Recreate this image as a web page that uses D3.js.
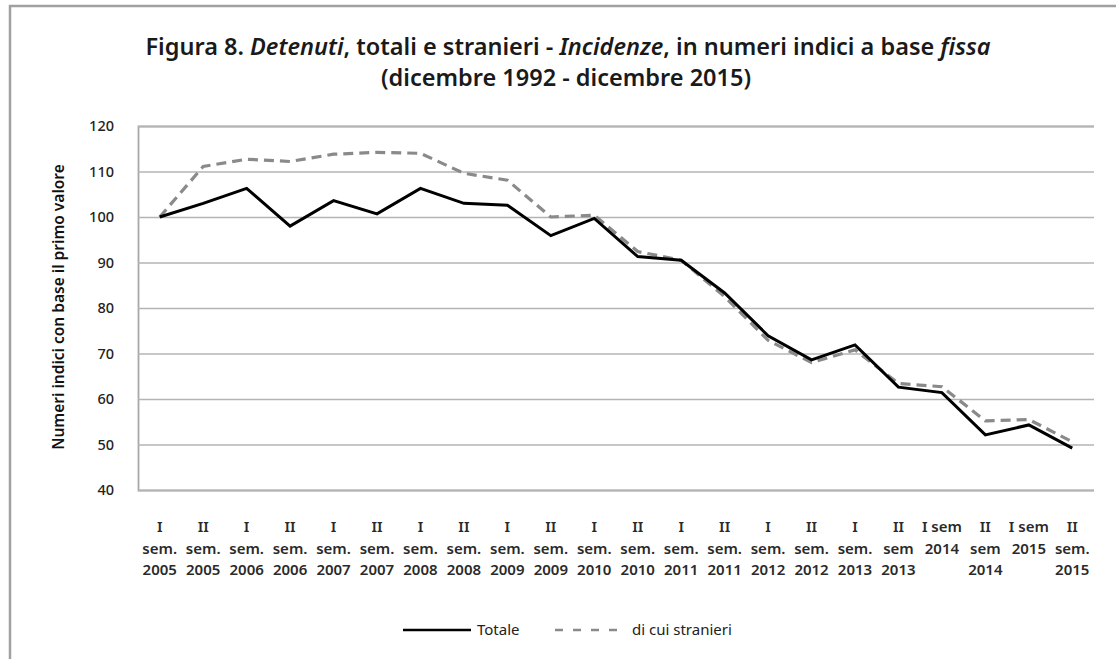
<!DOCTYPE html>
<html><head><meta charset="utf-8">
<script src="https://cdn.jsdelivr.net/npm/d3@7/dist/d3.min.js"></script>
<style>body{margin:0;background:#fff;} svg{display:block;font-family:"Noto Sans","Open Sans",sans-serif;}</style>
</head><body>
<script>
const categories = [
  ["I","sem.","2005"],["II","sem.","2005"],["I","sem.","2006"],["II","sem.","2006"],
  ["I","sem.","2007"],["II","sem.","2007"],["I","sem.","2008"],["II","sem.","2008"],
  ["I","sem.","2009"],["II","sem.","2009"],["I","sem.","2010"],["II","sem.","2010"],
  ["I","sem.","2011"],["II","sem.","2011"],["I","sem.","2012"],["II","sem.","2012"],
  ["I","sem.","2013"],["II","sem","2013"],["I sem","2014",""],["II","sem","2014"],
  ["I sem","2015",""],["II","sem.","2015"]
];
const totale = [100,103.0,106.3,98.0,103.6,100.7,106.3,103.0,102.6,95.9,99.7,91.3,90.5,83.3,73.9,68.6,71.9,62.6,61.4,52.1,54.3,49.2];
const stranieri = [100,111.1,112.7,112.2,113.8,114.2,114.0,109.6,108.1,100.0,100.4,92.4,90.5,82.5,72.9,68.0,70.8,63.4,62.7,55.2,55.5,50.6];
const yTicks = [40,50,60,70,80,90,100,110,120];

(function(){
const W=1116,H=659;
const svg=d3.select("body").append("svg").attr("width",W).attr("height",H);
svg.append("rect").attr("width",W).attr("height",H).attr("fill","#fff");
// outer frame
svg.append("rect").attr("x",10).attr("y",6).attr("width",W+20).attr("height",H+20)
  .attr("fill","none").attr("stroke","#a0a0a0").attr("stroke-width",2.5);

const pL=138,pR=1094,pT=126,pB=490;
const x=d3.scaleBand().domain(d3.range(categories.length)).range([pL,pR]);
const y=d3.scaleLinear().domain([40,120]).range([pB,pT]);

// title
const t=svg.append("text").attr("x",568).attr("y",55).attr("text-anchor","middle")
  .attr("font-size",23.5).attr("font-weight",600).attr("fill","#1a1a1a");
t.append("tspan").text("Figura 8. ");
t.append("tspan").attr("font-style","italic").text("Detenuti");
t.append("tspan").text(", totali e stranieri - ");
t.append("tspan").attr("font-style","italic").text("Incidenze");
t.append("tspan").text(", in numeri indici a base ");
t.append("tspan").attr("font-style","italic").text("fissa");
svg.append("text").attr("x",566).attr("y",86).attr("text-anchor","middle")
  .attr("font-size",23.5).attr("font-weight",600).attr("fill","#1a1a1a")
  .text("(dicembre 1992 - dicembre 2015)");

// gridlines
const yAxis=d3.axisLeft(y).tickValues(yTicks).tickSize(-(pR-pL)).tickPadding(24);
const gy=svg.append("g").attr("transform",`translate(${pL},0)`).call(yAxis);
gy.select(".domain").attr("stroke","#a8a8a8").attr("stroke-width",1.8);
gy.selectAll(".tick line").attr("stroke","#b4b4b4").attr("stroke-width",1.6);
gy.selectAll(".tick text").attr("font-size",14.5).attr("fill","#222").attr("font-weight",500).style("font-family","'Noto Sans',sans-serif");

// y title
svg.append("text").attr("transform","translate(64,307) rotate(-90)").attr("text-anchor","middle")
  .attr("font-size",15.5).attr("font-weight",600).attr("fill","#111")
  .text("Numeri indici con base il primo valore");

// x labels
const xl=svg.append("g");
categories.forEach((c,i)=>{
  const cx=x(i)+x.bandwidth()/2;
  c.forEach((s,j)=>{
    if(!s) return;
    xl.append("text").attr("x",cx).attr("y",532+j*21.5).attr("text-anchor","middle")
      .attr("font-size",15).attr("font-weight",600).attr("fill","#2a2a2a").text(s);
  });
});

const line=d3.line().x((d,i)=>x(i)+x.bandwidth()/2).y(d=>y(d));
svg.append("path").datum(stranieri).attr("d",line).attr("fill","none")
  .attr("stroke","#8a8a8a").attr("stroke-width",3.2).attr("stroke-dasharray","10,6");
svg.append("path").datum(totale).attr("d",line).attr("fill","none")
  .attr("stroke","#000").attr("stroke-width",3).attr("stroke-linejoin","miter");

// legend
svg.append("line").attr("x1",403).attr("x2",471).attr("y1",630).attr("y2",630).attr("stroke","#000").attr("stroke-width",2.5);
svg.append("text").attr("x",477).attr("y",635).attr("font-size",15).attr("fill","#222").text("Totale");
svg.append("line").attr("x1",555).attr("x2",621).attr("y1",630).attr("y2",630).attr("stroke","#8a8a8a").attr("stroke-width",2.5).attr("stroke-dasharray","8,10");
svg.append("text").attr("x",632).attr("y",635).attr("font-size",15).attr("fill","#222").text("di cui stranieri");
})();
</script>
</body></html>
